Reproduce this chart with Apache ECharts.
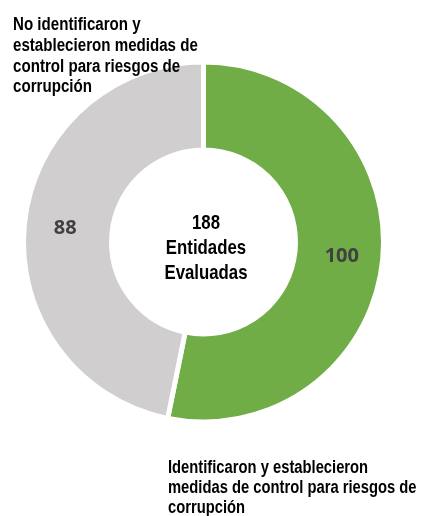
<!DOCTYPE html>
<html><head><meta charset="utf-8">
<script src="https://cdn.jsdelivr.net/npm/echarts@6/dist/echarts.min.js"></script>
<style>html,body{margin:0;padding:0;background:#fff}#c{width:427px;height:516px}</style>
</head><body><div id="c"></div>
<script>
const categories = ['Identificaron y establecieron medidas de control para riesgos de corrupción', 'No identificaron y establecieron medidas de control para riesgos de corrupción'];
const values = [100, 88];
const colors = ['#70AD47', '#D0CECE'];
const centerLines = ['188', 'Entidades', 'Evaluadas'];
const topLabelLines = ['No identificaron y', 'establecieron medidas de', 'control para riesgos de', 'corrupción'];
const bottomLabelLines = ['Identificaron y establecieron', 'medidas de control para riesgos de', 'corrupción'];

const sans = '"Liberation Sans", Arial, sans-serif';
const chart = echarts.init(document.getElementById('c'), null, {renderer: 'canvas'});
chart.setOption({
  animation: false,
  backgroundColor: '#fff',
  series: [{
    type: 'pie',
    center: [203.5, 242],
    radius: [92, 180],
    startAngle: 90,
    clockwise: true,
    z: 1,
    data: categories.map((n, i) => ({name: n, value: values[i], itemStyle: {color: colors[i]}})),
    itemStyle: {borderColor: '#fff', borderWidth: 5},
    label: {show: true, position: 'inside', formatter: '{c}', color: '#404040', fontSize: 20, fontWeight: 'bold', fontFamily: '"Open Sans", "DejaVu Sans", sans-serif'},
    labelLine: {show: false},
    emphasis: {disabled: true}
  }],
  graphic: [
    {type: 'text', z: 100, x: 206, y: 248, scaleX: 0.8, style: {text: centerLines.join('\n'), x: 0, y: 0, align: 'center', verticalAlign: 'middle', font: 'bold 21px ' + sans, lineHeight: 25, fill: '#000'}},
    {type: 'text', z: 100, x: 13, y: 15, scaleX: 0.84, style: {text: topLabelLines.join('\n'), x: 0, y: 0, font: 'bold 18px ' + sans, lineHeight: 20.7, fill: '#000'}},
    {type: 'text', z: 100, x: 168, y: 458, scaleX: 0.82, style: {text: bottomLabelLines.join('\n'), x: 0, y: 0, font: 'bold 18px ' + sans, lineHeight: 20, fill: '#000'}}
  ]
});
</script></body></html>
